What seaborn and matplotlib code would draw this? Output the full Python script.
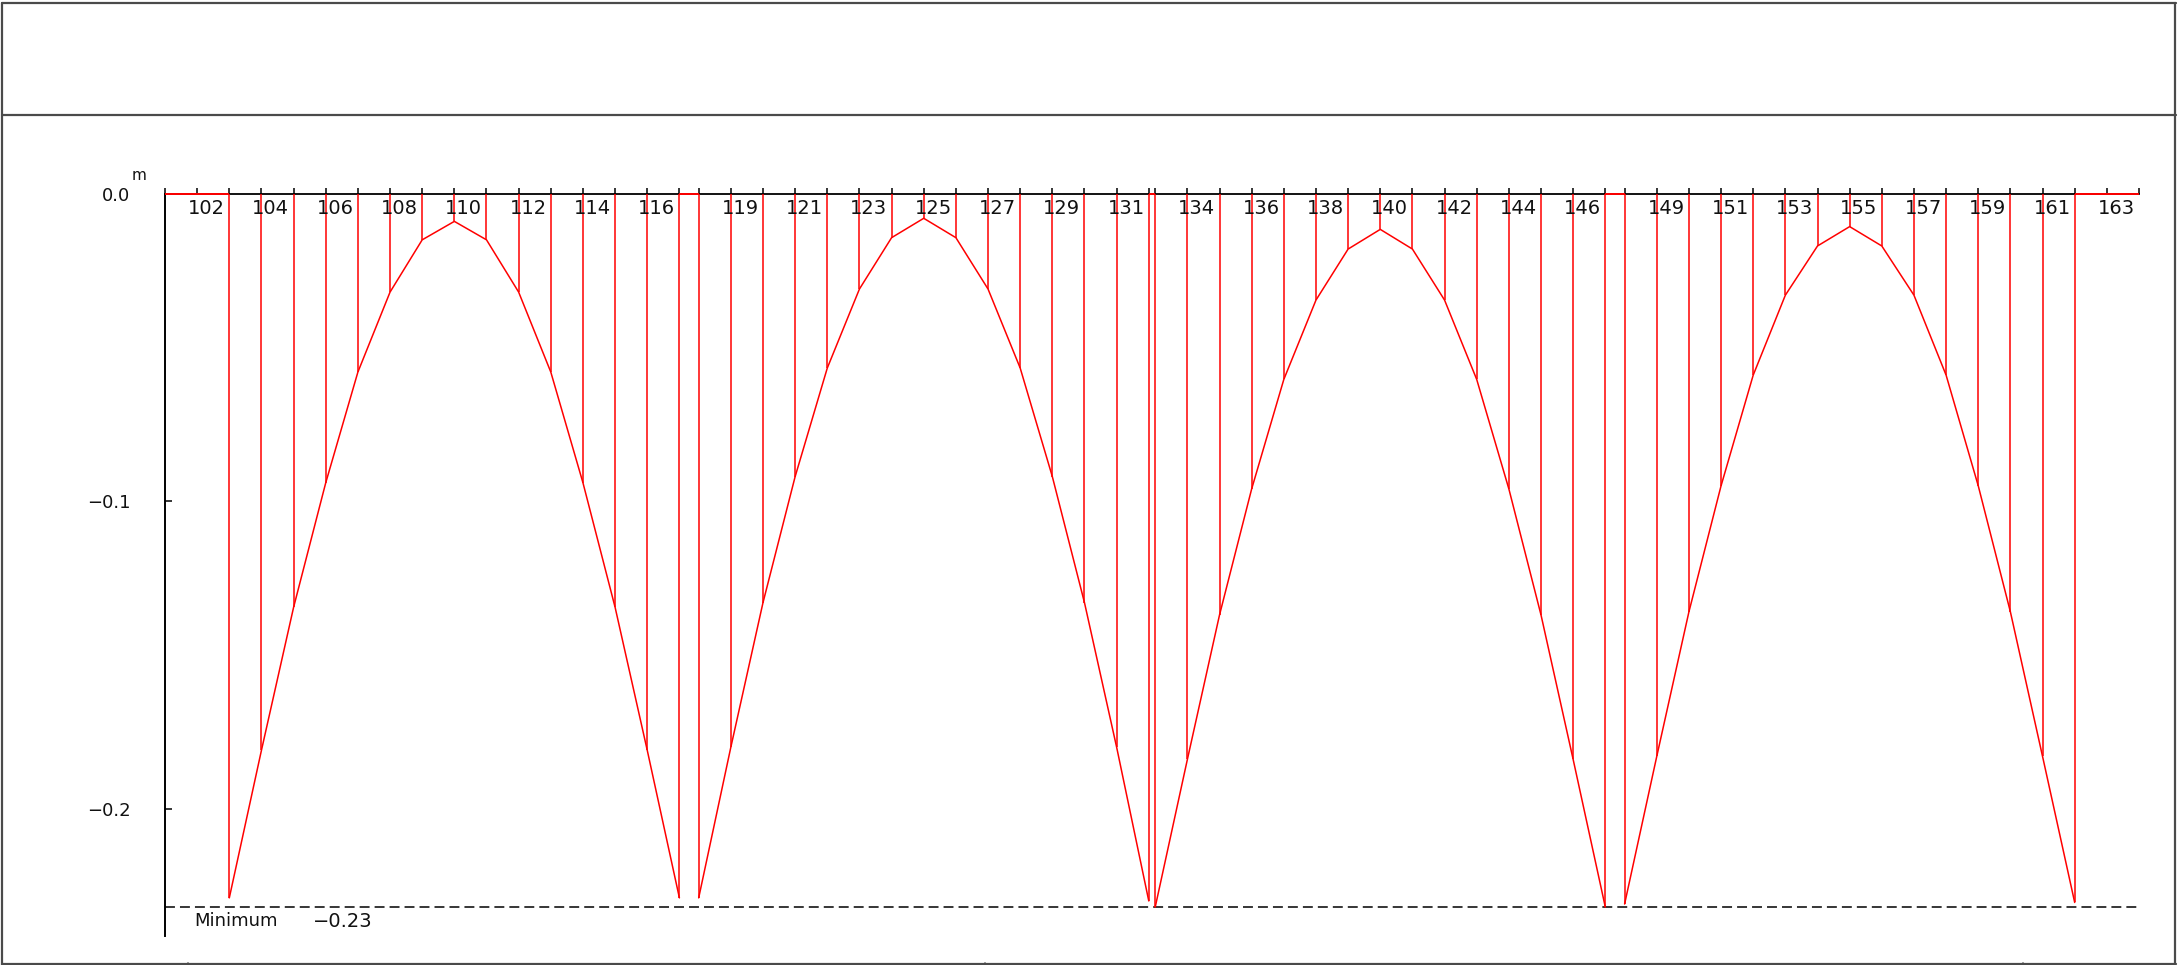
import numpy as np
import pandas as pd
import matplotlib
matplotlib.use("Agg")
import matplotlib.pyplot as plt
from matplotlib.lines import Line2D
from matplotlib.transforms import offset_copy
import seaborn as sns

# ---------------- data ----------------
# node numbers and their stations (element units along the beam)
nodes = list(range(101, 165))
stations = [0, 1,
            2, 3, 4, 5, 6, 7, 8, 9, 10, 11, 12, 13, 14, 15, 16,
            16.6, 17.6, 18.6, 19.6, 20.6, 21.6, 22.6, 23.6, 24.6, 25.6, 26.6, 27.6, 28.6, 29.6, 30.6,
            30.8, 31.8, 32.8, 33.8, 34.8, 35.8, 36.8, 37.8, 38.8, 39.8, 40.8, 41.8, 42.8, 43.8, 44.8,
            45.4, 46.4, 47.4, 48.4, 49.4, 50.4, 51.4, 52.4, 53.4, 54.4, 55.4, 56.4, 57.4, 58.4, 59.4,
            60.4, 61.4]

span1_nodes = list(range(103, 118))
span2_nodes = list(range(118, 133))
span3_nodes = list(range(133, 148))
span4_nodes = list(range(148, 163))

span1_defl = [-0.229, -0.181, -0.1345, -0.094, -0.058, -0.032, -0.015, -0.009,
              -0.015, -0.032, -0.058, -0.094, -0.1345, -0.181, -0.229]
span2_defl = [-0.229, -0.180, -0.133, -0.092, -0.0567, -0.031, -0.0143, -0.008,
              -0.0143, -0.031, -0.0567, -0.092, -0.133, -0.180, -0.230]
span3_defl = [-0.232, -0.184, -0.137, -0.096, -0.0604, -0.0346, -0.018, -0.0116,
              -0.018, -0.0346, -0.0604, -0.096, -0.137, -0.184, -0.232]
span4_defl = [-0.231, -0.183, -0.136, -0.095, -0.059, -0.033, -0.017, -0.0107,
              -0.017, -0.033, -0.059, -0.095, -0.136, -0.183, -0.2305]

# node pairs connected by a zero line
zero_segments = [(101, 103), (117, 118), (132, 133), (147, 148), (162, 164)]

labeled_nodes = [102, 104, 106, 108, 110, 112, 114, 116,
                 119, 121, 123, 125, 127, 129, 131,
                 134, 136, 138, 140, 142, 144, 146,
                 149, 151, 153, 155, 157, 159, 161, 163]

y_ticks = [0.0, -0.1, -0.2]
unit_label = "m"
min_label = "Minimum"

# ---------------- build frame ----------------
pos = dict(zip(nodes, stations))
rows = []
for sp, (nn, dd) in enumerate([(span1_nodes, span1_defl), (span2_nodes, span2_defl),
                               (span3_nodes, span3_defl), (span4_nodes, span4_defl)]):
    for n, d in zip(nn, dd):
        rows.append({"node": n, "station": pos[n], "defl": d, "span": sp})
df = pd.DataFrame(rows)
min_val = df["defl"].min()

# ---------------- figure ----------------
sns.set_theme(style="white")
plt.rcParams["font.family"] = ["DejaVu Sans"]

W, H = 2179, 965
fig = plt.figure(figsize=(W / 100, H / 100), dpi=100)
fig.patch.set_facecolor("white")

x0_px, x1_px, ytop_px, ybot_px = 165, 2139, 193.7, 936
ax = fig.add_axes([x0_px / W, (H - ybot_px) / H, (x1_px - x0_px) / W, (ybot_px - ytop_px) / H])
ax.set_facecolor("white")
ax.set_xlim(stations[0], stations[-1])
ax.set_ylim(-0.2414, 0)

red = "#ff0000"
lw_red = 1.1

# curves per span
sns.lineplot(data=df, x="station", y="defl", units="span", estimator=None, sort=False,
             color=red, linewidth=lw_red, ax=ax, legend=False, zorder=3, clip_on=False)
# verticals at every node
ax.vlines(df["station"], 0, df["defl"], colors=red, linewidth=lw_red, zorder=3, clip_on=False)
# zero line parts
for a, b in zero_segments:
    ax.plot([pos[a], pos[b]], [0, 0], color=red, linewidth=lw_red + 0.3, zorder=4,
            clip_on=False, solid_capstyle="butt")

# minimum line
ax.hlines(min_val, stations[0], stations[-1], colors="black", linewidth=1.1,
          linestyles=(0, (6.5, 3.3)), zorder=2)
mtrans = offset_copy(ax.transData, fig=fig, x=0, y=-5, units="dots")
ax.text(pos[101] + 0.9, min_val, min_label, transform=mtrans, ha="left", va="top",
        fontsize=13, color="#111111")
ax.text(pos[101] + 4.6, min_val, f"{min_val:.2f}".replace("-", "\u2212"), transform=mtrans,
        ha="left", va="top", fontsize=14, color="#111111")

# spines
for s in ["right", "bottom"]:
    ax.spines[s].set_visible(False)
ax.spines["top"].set_color("black")
ax.spines["top"].set_linewidth(1.3)
ax.spines["left"].set_color("black")
ax.spines["left"].set_linewidth(1.4)

# x ticks: every node, on top, pointing up
ax.set_xticks(stations)
ax.set_xticklabels([])
ax.tick_params(axis="x", which="major", top=True, bottom=False, labeltop=False,
               labelbottom=False, direction="out", length=4.3, width=1.1, color="black")
ax.set_xlabel("")
ltrans = offset_copy(ax.transData, fig=fig, x=9.4, y=-5, units="dots")
for n in labeled_nodes:
    ax.text(pos[n], 0, str(n), transform=ltrans, ha="center", va="top",
            fontsize=14, color="#111111")

# y ticks
ax.set_yticks(y_ticks)
ax.set_yticklabels([f"{v:.1f}".replace("-", "\u2212") for v in y_ticks])
ax.tick_params(axis="y", left=True, right=False, direction="in", length=5, width=1.1,
               pad=25, labelsize=13, color="black", labelcolor="#111111")
ax.set_ylabel("")
ax.grid(False)

# unit label
fig.text(139 / W, 1 - 176 / H, unit_label, ha="center", va="center", fontsize=11, color="#111111")

# ---------------- page frame ----------------
fc = "#4a4a4a"
def fline(xs, ys, lw=1.6):
    fig.add_artist(Line2D([x / W for x in xs], [1 - y / H for y in ys],
                          transform=fig.transFigure, color=fc, linewidth=lw))

fline([2, 2176], [3, 3])
fline([2, 2176], [115, 115])
fline([2, 2176], [963.5, 963.5])
fline([2, 2], [3, 965])
fline([2175, 2175], [3, 963.5])
for xb in [188, 985, 2023]:
    fline([xb, xb], [963, 965], lw=1.2)

fig.savefig("out.png", dpi=100, facecolor="white")
